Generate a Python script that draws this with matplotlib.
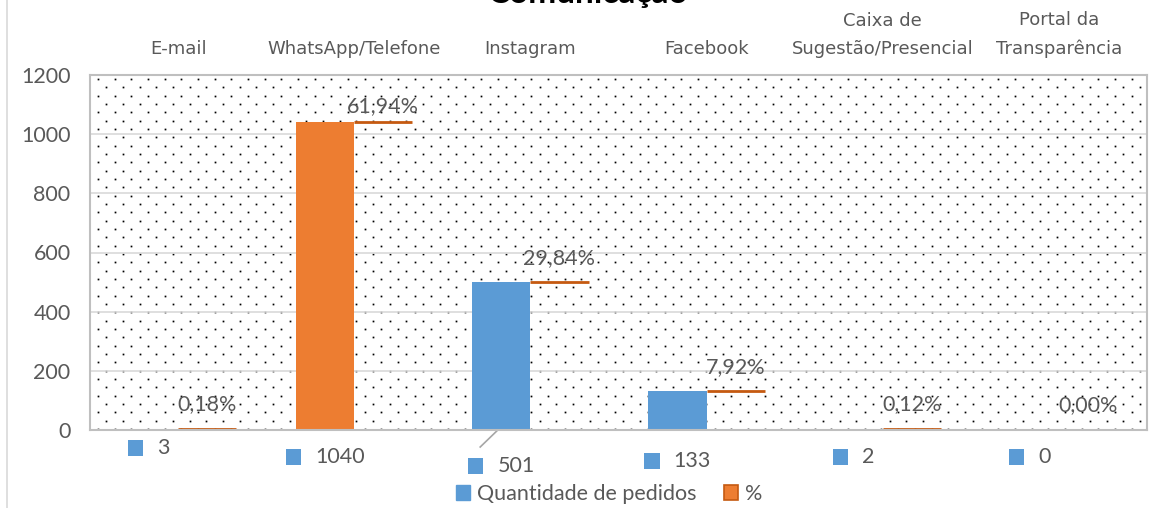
import matplotlib
matplotlib.use("Agg")
import matplotlib.pyplot as plt
import numpy as np
from matplotlib.lines import Line2D
from matplotlib.patches import Patch, Rectangle
from matplotlib.offsetbox import AnnotationBbox, DrawingArea, HPacker, TextArea
import matplotlib.transforms as mtransforms

# data
categories = [
    "E-mail",
    "WhatsApp/Telefone",
    "Instagram",
    "Facebook",
    "Caixa de\nSugestão/Presencial",
    "Portal da\nTransparência",
]
quantities = [3, 1040, 501, 133, 2, 0]
percent_labels = ["0,18%", "61,94%", "29,84%", "7,92%", "0,12%", "0,00%"]

BLUE = "#5B9BD5"
ORANGE = "#ED7D31"
DARK_ORANGE = "#C55A11"
TEXT = "#595959"
GRID = "#D9D9D9"
SPINE = "#BFBFBF"
NUM_FONT = "Lato"
CAT_FONT = "DejaVu Sans"
NUM_SIZE = 15.5

# layout-only: pixel drop of each count label below the axis, pct label lift
count_label_drop = [18, 27, 36, 31, 27, 27]
pct_label_lift = [18, 12, 17, 17, 18, 18]

W, H, DPI = 1154, 508, 100
fig = plt.figure(figsize=(W / DPI, H / DPI), dpi=DPI)
left, right, top, bottom = 90, 1147, 75, 430
ax = fig.add_axes([left / W, 1 - bottom / H, (right - left) / W, (bottom - top) / H])

x = np.arange(len(categories))
width = 0.33
bar_colors = [ORANGE if c == "WhatsApp/Telefone" else BLUE for c in categories]

# dotted background pattern (diamond lattice, in pixel spacing)
aw, ah = right - left, bottom - top
dx, dy = 16.67, 8.33
px, py = [], []
for r in range(int(ah / dy) + 1):
    yy = ah - 4 - r * dy
    if yy < 1:
        continue
    off = 8 if r % 2 == 0 else 8 + dx / 2
    xx = np.arange(off, aw - 1, dx)
    px.extend(xx / aw)
    py.extend([yy / ah] * len(xx))
ax.plot(px, py, "s", color="black", markersize=1.25, markeredgewidth=0,
        transform=ax.transAxes, zorder=0.5)

ax.bar(x - width / 2, quantities, width=width, color=bar_colors, zorder=2)
ax.hlines(quantities, x, x + width, color=DARK_ORANGE, linewidth=2, zorder=2.2)

for i, lab in enumerate(percent_labels):
    ax.annotate(lab, (x[i] + width / 2, quantities[i]), xytext=(0, pct_label_lift[i]),
                textcoords="offset points", ha="center", va="center",
                fontsize=NUM_SIZE, color=TEXT, family=NUM_FONT, zorder=4)

ax.set_xlim(-0.5, len(categories) - 0.5)
ax.set_ylim(0, 1200)
ax.set_yticks(range(0, 1201, 200))
ax.yaxis.grid(True, color=GRID, linewidth=1.2)
for ln in ax.get_ygridlines():
    ln.set_zorder(1)
ax.tick_params(axis="y", length=0, pad=14, labelsize=NUM_SIZE, labelcolor=TEXT)
for t in ax.get_yticklabels():
    t.set_family(NUM_FONT)

ax.xaxis.tick_top()
ax.set_xticks(x)
ax.set_xticklabels(categories, fontsize=13, color=TEXT, family=CAT_FONT, linespacing=1.75)
ax.tick_params(axis="x", length=0, pad=12)

for s in ax.spines.values():
    s.set_color(SPINE)
    s.set_linewidth(1.5)
    s.set_zorder(2.5)

# count labels below the axis with a small series marker
blend = mtransforms.blended_transform_factory(ax.transData, ax.transAxes)
for i, q in enumerate(quantities):
    da = DrawingArea(11, 11, 0, 0)
    da.add_artist(Rectangle((0, 0), 11, 11, facecolor=BLUE, edgecolor="none"))
    ta = TextArea(str(q), textprops=dict(fontsize=NUM_SIZE, color=TEXT, family=NUM_FONT))
    box = HPacker(children=[da, ta], align="center", pad=0, sep=10)
    yfrac = -count_label_drop[i] / ah
    ab = AnnotationBbox(box, (x[i] - width / 2, yfrac), xycoords=blend,
                        frameon=False, box_alignment=(0.5, 0.5), annotation_clip=False)
    ax.add_artist(ab)
    if i == 2:
        ax.plot([x[i] - width / 2 - 0.02, x[i] - width / 2 - 0.12], [0, -17 / ah],
                color="#A6A6A6", linewidth=1.2, transform=blend, clip_on=False)

handles = [
    Patch(facecolor=BLUE, edgecolor=BLUE, label="Quantidade de pedidos"),
    Patch(facecolor=ORANGE, edgecolor=DARK_ORANGE, linewidth=1.2, label="%"),
]
fig.legend(handles=handles, loc="center", bbox_to_anchor=(609 / W, 1 - 494 / H), ncol=2,
           frameon=False, handlelength=0.65, handleheight=0.65, handletextpad=0.3,
           columnspacing=1.3, prop=dict(family=NUM_FONT, size=NUM_SIZE), labelcolor=TEXT)

fig.text(588 / W, 1 - 3 / H, "Comunicação", ha="center", va="baseline",
         fontsize=24, fontweight="bold", family=NUM_FONT, color="black")

fig.add_artist(Line2D([7 / W, 7 / W], [0, 1], color=GRID, linewidth=1.2))

fig.savefig("out.png", dpi=DPI)
